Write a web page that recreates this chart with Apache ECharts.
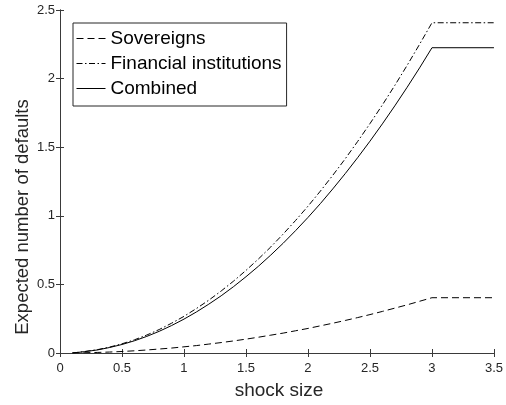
<!DOCTYPE html>
<html>
<head>
<meta charset="utf-8">
<script src="https://cdn.jsdelivr.net/npm/echarts@6/dist/echarts.min.js"></script>
<style>
html,body{margin:0;padding:0;background:#fff;}
#main{width:506px;height:405px;}
</style>
</head>
<body>
<div id="main"></div>
<script>
var shockSize = [0.1,0.2,0.3,0.4,0.5,0.6,0.7,0.8,0.9,1.0,1.1,1.2,1.3,1.4,1.5,1.6,1.7,1.8,1.9,2.0,2.1,2.2,2.3,2.4,2.5,2.6,2.7,2.8,2.9,3.0,3.5];
var sovereigns = [0,0.002,0.004,0.007,0.011,0.016,0.022,0.029,0.036,0.045,0.054,0.065,0.076,0.088,0.101,0.115,0.13,0.145,0.162,0.179,0.198,0.217,0.237,0.258,0.28,0.303,0.327,0.351,0.377,0.403,0.403];
var financial = [0,0.011,0.024,0.043,0.067,0.096,0.131,0.171,0.217,0.267,0.324,0.385,0.452,0.524,0.602,0.685,0.773,0.867,0.966,1.07,1.18,1.295,1.415,1.541,1.672,1.808,1.95,2.097,2.25,2.407,2.407];
var combined = [0,0.01,0.022,0.04,0.062,0.089,0.121,0.158,0.2,0.247,0.299,0.356,0.417,0.484,0.556,0.632,0.714,0.8,0.892,0.988,1.089,1.196,1.307,1.423,1.544,1.67,1.801,1.937,2.078,2.225,2.225];
var seriesNames = ['Sovereigns','Financial institutions','Combined'];
var xTitle = 'shock size';
var yTitle = 'Expected number of defaults';

function pairs(ys){ return shockSize.map(function(x,i){ return [x, ys[i]]; }); }

var FONT = "'Liberation Sans', Arial, sans-serif";
var AX = '#3a3a3a';
var TXT = '#262626';

var chart = echarts.init(document.getElementById('main'), null, {renderer:'canvas'});
var baseAxis = {
  axisLine:{show:true, lineStyle:{color:AX, width:1}},
  axisTick:{show:true, inside:true, length:4, lineStyle:{color:AX, width:1}},
  splitLine:{show:false},
  axisLabel:{color:TXT, fontFamily:FONT, fontSize:13}
};
function ax(extra){ return Object.assign({}, JSON.parse(JSON.stringify(baseAxis)), extra); }

chart.setOption({
  animation:false,
  backgroundColor:'#fff',
  grid:{left:60, right:8, top:10, bottom:52, containLabel:false},
  xAxis:[
    ax({type:'value', min:0, max:3.5, interval:0.5, position:'bottom', axisLabel:{color:TXT, fontFamily:FONT, fontSize:13, margin:9}}),
    ax({type:'value', min:0, max:3.5, interval:0.5, position:'top', axisLabel:{show:false}})
  ],
  yAxis:[
    ax({type:'value', min:0, max:2.5, interval:0.5, position:'left', axisLabel:{color:TXT, fontFamily:FONT, fontSize:13, margin:5}}),
    ax({type:'value', min:0, max:2.5, interval:0.5, position:'right', axisLabel:{show:false}})
  ],
  legend:{
    orient:'vertical', left:73, top:23,
    padding:[6,5,8,3], itemGap:6, itemWidth:29, itemHeight:14,
    borderColor:'#262626', borderWidth:1, backgroundColor:'#fff',
    itemStyle:{color:'transparent', borderColor:'transparent', borderWidth:0},
    lineStyle:{width:1},
    textStyle:{color:'#000', fontFamily:FONT, fontSize:19},
    data:seriesNames
  },
  graphic:[
    {type:'text', x:279, y:391, style:{text:xTitle, fill:TXT, font:'19px '+FONT, align:'center', verticalAlign:'middle'}},
    {type:'text', x:23, y:217, rotation:Math.PI/2, style:{text:yTitle, fill:TXT, font:'18.5px '+FONT, align:'center', verticalAlign:'middle'}}
  ],
  series:[
    {name:seriesNames[0], type:'line', data:pairs(sovereigns), symbol:'none', lineStyle:{color:'#000', width:1, type:[7,4]}, itemStyle:{color:'#000'}},
    {name:seriesNames[1], type:'line', data:pairs(financial), symbol:'none', lineStyle:{color:'#000', width:1, type:[6,2.5,1.5,2.5]}, itemStyle:{color:'#000'}},
    {name:seriesNames[2], type:'line', data:pairs(combined), symbol:'none', lineStyle:{color:'#000', width:1, type:'solid'}, itemStyle:{color:'#000'}}
  ]
});
</script>
</body>
</html>
